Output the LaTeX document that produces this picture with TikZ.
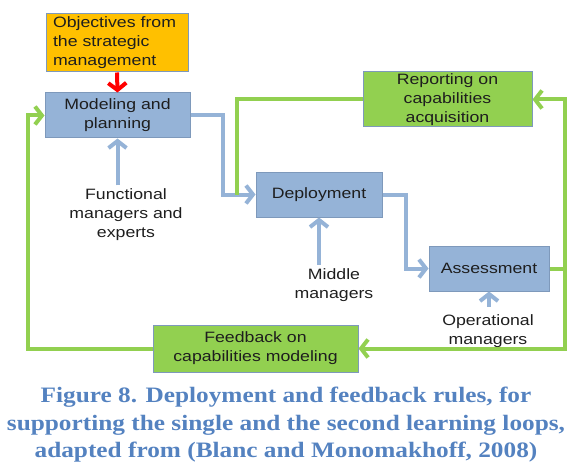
\documentclass[tikz,border=0pt]{standalone}
\usepackage{fontspec}
\usepackage{tikz}
\usetikzlibrary{arrows.meta}
\newfontfamily\diagfont[FakeStretch=1.18]{Liberation Sans}
\newfontfamily\capfont[FakeStretch=1.15]{Liberation Serif}
\definecolor{loopblue}{RGB}{149,179,215}
\definecolor{loopgreen}{RGB}{146,208,80}
\definecolor{loopborder}{RGB}{126,153,187}
\definecolor{looporange}{RGB}{255,192,0}
\definecolor{loopred}{RGB}{255,0,0}
\definecolor{looptext}{RGB}{30,30,30}
\definecolor{loopcaption}{RGB}{84,130,192}
\tikzset{
    loopbox/.style={
        draw=loopborder,
        line width=1pt,
        inner sep=0pt,
        align=center,
        text=looptext,
        font=\diagfont\fontsize{15}{19}\selectfont
    },
    looplabel/.style={
        align=center,
        text=looptext,
        font=\diagfont\fontsize{15}{19}\selectfont
    },
    loopbarb/.style={-{Straight Barb[length=7pt,width=18pt]}},
    blueline/.style={draw=loopblue, line width=4pt},
    greenline/.style={draw=loopgreen, line width=4pt}
}
\begin{document}
\begin{tikzpicture}[x=1pt,y=-1pt]
            \useasboundingbox (0,0) rectangle (572,465);
            % boxes
            \node[loopbox, fill=looporange, minimum width=142pt, minimum height=58pt,
                  text width=128pt, align=left] (objectives) at (117,43)
                {Objectives from\\the strategic\\management};
            \node[loopbox, fill=loopblue, minimum width=145pt, minimum height=45pt]
                (modeling) at (117.5,115.5) {Modeling and\\planning};
            \node[loopbox, fill=loopblue, minimum width=126pt, minimum height=45pt]
                (deployment) at (319,194.5) {Deployment};
            \node[loopbox, fill=loopblue, minimum width=120pt, minimum height=45pt]
                (assessment) at (489,268.5) {Assessment};
            \node[loopbox, fill=loopgreen, minimum width=169pt, minimum height=55pt]
                (reporting) at (447.5,99.5) {Reporting on\\capabilities\\acquisition};
            \node[loopbox, fill=loopgreen, minimum width=205pt, minimum height=47pt]
                (feedback) at (255.5,348.5) {Feedback on\\capabilities modeling};
            % actors
            \node[looplabel] (functional) at (126,215) {Functional\\managers and\\experts};
            \node[looplabel] (middle) at (334,285) {Middle\\managers};
            \node[looplabel] (operational) at (488,331) {Operational\\managers};
            % single loop
            \draw[blueline, loopbarb] (modeling.east) -- ++(32,0) |- (deployment.west);
            \draw[blueline, loopbarb] (deployment.east) -- ++(23,0) |- (assessment.west);
            \draw[blueline, loopbarb] (functional.north -| modeling.south) -- (modeling.south);
            \draw[blueline, loopbarb] (middle.north -| deployment.south) -- (deployment.south);
            \draw[blueline, loopbarb, shorten <=4pt] (operational.north -| assessment.south) -- (assessment.south);
            \draw[draw=loopred, line width=4pt, loopbarb] (objectives.south) -- (modeling.north);
            % second loop
            \coordinate (greenjoin) at (237,194.5);
            \coordinate (greenright) at (565,268.5);
            \draw[greenline] (reporting.west) -| (greenjoin);
            \draw[greenline] (assessment.east) -- (greenright);
            \draw[greenline, loopbarb] (greenright) |- (reporting.east);
            \draw[greenline, loopbarb] (greenright) |- (feedback.east);
            \draw[greenline, loopbarb] (feedback.west) -| (28,250) |- (modeling.west);
            % caption
            \node[text=loopcaption, align=center,
                  font=\capfont\bfseries\fontsize{22}{27.5}\selectfont]
                (caption) at (286,425)
                {Figure 8. Deployment and feedback rules, for\\
                 supporting the single and the second learning loops,\\
                 adapted from (Blanc and Monomakhoff, 2008)};
\end{tikzpicture}
\end{document}
